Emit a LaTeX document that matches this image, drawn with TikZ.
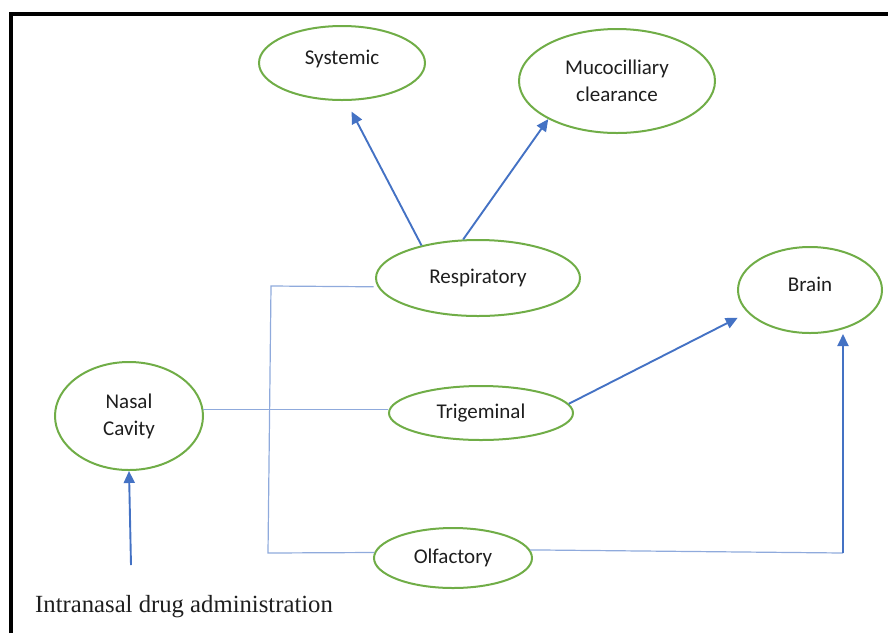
\documentclass[tikz,border=0pt]{standalone}
\usepackage{fontspec}
\setmainfont{Carlito}
\newfontfamily\serifx{Liberation Serif}
\usetikzlibrary{arrows.meta,shapes.geometric,calc}
\definecolor{ovgreen}{RGB}{112,173,71}
\definecolor{arblue}{RGB}{68,114,196}
\definecolor{lnblue}{RGB}{143,170,220}
\definecolor{txt}{RGB}{30,30,30}
\begin{document}
\begin{tikzpicture}[x=1pt,y=-1pt,
  oval/.style={ellipse,draw=ovgreen,line width=2pt,inner sep=0pt,align=center,
    text=txt,font=\fontsize{21}{27}\selectfont},
  lbl/.style={font=\fontsize{21}{27}\selectfont,text=txt},
  arr/.style={draw=arblue,line width=1.9pt,-{Triangle[length=12pt,width=11pt]}},
  thinln/.style={draw=lnblue,line width=1.2pt},
  frame/.style={draw=black,line width=3.5pt}]
\useasboundingbox (0,0) rectangle (888,633);
\draw[frame] (11,633) -- (11,14) -- (890,14);

\node[oval,minimum width=166pt,minimum height=74pt] (sys) at (342,63) {};
\node[lbl] (systxt) at (342,59) {Systemic};
\node[oval,minimum width=196pt,minimum height=104pt] (muco) at (617,81) {Mucocilliary\\clearance};
\node[oval,minimum width=204pt,minimum height=76pt] (resp) at (478,278) {Respiratory};
\node[oval,minimum width=144pt,minimum height=86pt] (brain) at (810,290) {};
\node[lbl] (braintxt) at (810,284) {Brain};
\node[oval,minimum width=184pt,minimum height=54pt] (trig) at (481,413) {Trigeminal};
\node[oval,minimum width=148pt,minimum height=108pt] (nasal) at (129,416) {Nasal\\Cavity};
\node[oval,minimum width=158pt,minimum height=60pt] (olf) at (453,558) {Olfactory};

\node[anchor=west,font=\serifx\fontsize{24.7}{28}\selectfont,text=txt,inner sep=0pt] (admin) at (35,607) {Intranasal drug administration};

\coordinate (c1) at (843,553);
\coordinate (c2) at (271,286);
\coordinate (c3) at (268,553);
\coordinate (c4) at (131,565);

\draw[arr,shorten >=12pt] (resp.150) -- (sys.-84);
\draw[arr] (resp.111) -- (muco.209);
\draw[arr,shorten >=11pt] (trig.6) -- (brain.200);
\draw[thinln] (olf.6) -- (c1);
\draw[arr] (c1) -- (c1 |- brain.south);
\draw[thinln] ($(resp.185)+(-4,0)$) -- (c2) -- (c3) -- (olf.176);
\draw[thinln] (nasal.5) -- (nasal.5 -| trig.west);
\draw[arr] (c4) -- (nasal.south);
\end{tikzpicture}
\end{document}
